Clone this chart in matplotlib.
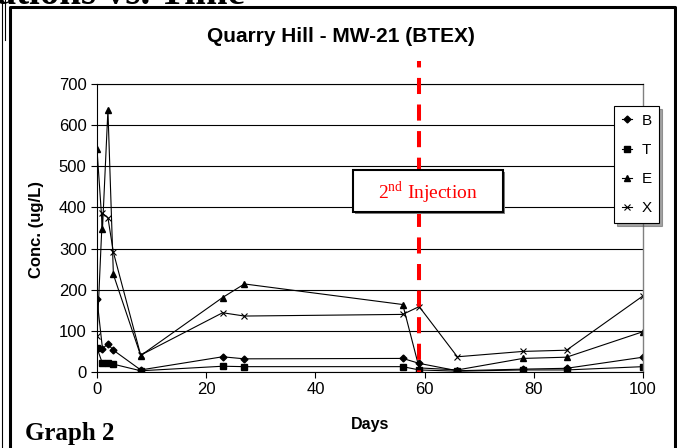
import numpy as np
import matplotlib.pyplot as plt
from matplotlib.patches import Rectangle
from matplotlib.lines import Line2D

plt.rcParams['font.family'] = ['Liberation Sans', 'DejaVu Sans']
plt.rcParams['mathtext.fontset'] = 'custom'
plt.rcParams['mathtext.rm'] = 'Liberation Serif'

# data (days since first injection, ug/L)
days = [0, 1, 2, 3, 8, 23, 27, 56, 59, 66, 78, 86, 100]
benzene = [177, 57, 68, 53, 5, 37, 32, 33, 21, 3, 7, 9, 36]
toluene = [58, 21, 23, 19, 3, 14, 13, 13, 5, 2, 5, 5, 13]
ethylbenzene = [541, 347, 637, 237, 40, 181, 214, 164, 10, 5, 33, 36, 98]
xylenes = [87, 386, 375, 291, 41, 144, 136, 140, 159, 37, 50, 53, 185]
injection_day = 59

xticks = [0, 20, 40, 60, 80, 100]
yticks = [0, 100, 200, 300, 400, 500, 600, 700]

W, H = 677, 448


def fx(px):
    return px / W


def fy(py):
    return 1 - py / H


fig = plt.figure(figsize=(W / 100, H / 100), dpi=100)

# page furniture: cut-off heading, frame lines
fig.text(fx(245), fy(4), 'Concentrations vs. Time', ha='right', va='baseline',
         family='Liberation Serif', weight='bold', fontsize=28)
fig.add_artist(Line2D([fx(1.5), fx(1.5)], [0, 1], color='black', lw=0.8))
fig.add_artist(Line2D([fx(4.5), fx(4.5)], [fy(0), fy(40)], color='black', lw=0.8))
fig.add_artist(Line2D([fx(10), fx(10), fx(675), fx(675)],
                      [0, fy(7.5), fy(7.5), 0], color='black', lw=2.2))

ax = fig.add_axes([fx(97), fy(372), fx(643) - fx(97), fy(84) - fy(372)])

ax.plot(days, benzene, color='black', lw=0.8, marker='D', ms=3.5, label='B')
ax.plot(days, toluene, color='black', lw=0.8, marker='s', ms=4.5, label='T')
ax.plot(days, ethylbenzene, color='black', lw=0.8, marker='^', ms=5, label='E')
ax.plot(days, xylenes, color='black', lw=0.8, marker='x', ms=5, mew=0.8, label='X')

ax.plot([injection_day, injection_day], [755, 0], color='red', lw=2.9,
        ls=(2.4, (4, 2.6)), clip_on=False, zorder=5)

ax.set_xlim(0, 100)
ax.set_ylim(0, 700)
ax.set_xticks(xticks)
ax.set_yticks(yticks)
ax.yaxis.grid(True, color='black', lw=0.8)
ax.set_axisbelow(True)
ax.tick_params(labelsize=12, length=4, width=0.8, color='black')
for side in ['left', 'bottom', 'top']:
    ax.spines[side].set_linewidth(0.8)
ax.spines['right'].set_color('#808080')
ax.spines['right'].set_linewidth(1.0)

fig.text(fx(341), fy(37), 'Quarry Hill - MW-21 (BTEX)', ha='center', va='center',
         weight='bold', fontsize=15)
fig.text(fx(370), fy(424), 'Days', ha='center', va='center', weight='bold', fontsize=11.5)
fig.text(fx(37), fy(230), 'Conc. (ug/L)', ha='center', va='center', rotation=90,
         weight='bold', fontsize=12)
fig.text(fx(25), fy(440), 'Graph 2', ha='left', va='baseline',
         family='Liberation Serif', weight='bold', fontsize=18)

# "2nd Injection" callout box
fig.add_artist(Rectangle((fx(355), fy(214)), fx(150), fy(0) - fy(42),
                         facecolor='#808080', edgecolor='none', zorder=6))
fig.add_artist(Rectangle((fx(353), fy(212)), fx(150), fy(0) - fy(42),
                         facecolor='white', edgecolor='black', lw=1.5, zorder=7))
fig.text(fx(428), fy(199), r'2$^{\mathrm{nd}}$ Injection', ha='center', va='baseline',
         family='Liberation Serif', color='red', fontsize=14, zorder=8)

leg = ax.legend(loc='upper left', bbox_to_anchor=(fx(614), fy(106)),
                bbox_transform=fig.transFigure, fontsize=11, frameon=True,
                fancybox=False, shadow=True, handlelength=0.7, handletextpad=0.6,
                labelspacing=1.0, borderpad=0.5, borderaxespad=0)
leg.get_frame().set_edgecolor('black')
leg.get_frame().set_linewidth(0.8)

fig.savefig('out.png', dpi=100)
